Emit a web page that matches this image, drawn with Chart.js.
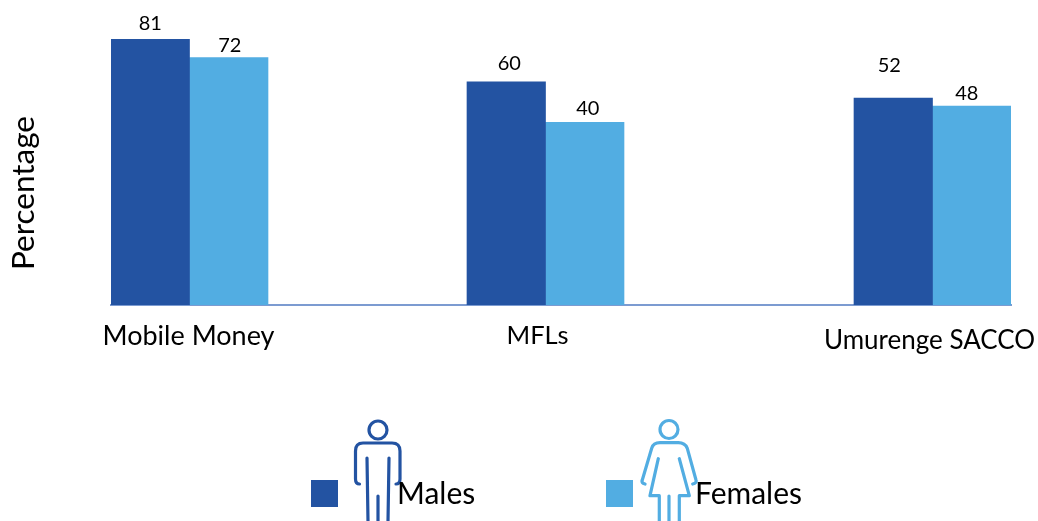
<!DOCTYPE html>
<html lang="en">
<head>
    <meta charset="UTF-8">
    <title>Use of financial services by sex</title>
    <script src="https://cdn.jsdelivr.net/npm/chart.js"></script>
    <style>
        html, body { margin: 0; padding: 0; background: #fff; }
        canvas { display: block; }
    </style>
</head>
<body>
<canvas id="myChart" width="1038" height="521"></canvas>

<script>
    const categories = ['Mobile Money', 'MFLs', 'Umurenge SACCO'];
    const seriesNames = ['Males', 'Females'];
    const males = [81, 60, 52];
    const females = [72, 40, 48];

    // groups are not evenly spaced along the axis
    const groupPositions = [0, 3.56, 7.43];

    const darkBlue = '#2353a2';
    const lightBlue = '#52ade2';
    const labelFont = '"Lato", "Open Sans", sans-serif';

    // hand placement of the value labels: [dx, lift above bar top]
    const valueNudge = [
        [[0, 16], [3, 18], [-4, 33]],
        [[1, 12], [3, 14], [-5, 13]]
    ];
    // hand placement of the category labels: [dx, y, font size]
    const categoryNudge = [[-1, 336, 27], [-8, 336, 25.5], [-3, 341, 26]];

    function text(ctx, str, x, y, font, align) {
        ctx.font = font;
        ctx.fillStyle = '#000';
        ctx.textAlign = align || 'center';
        ctx.textBaseline = 'middle';
        ctx.fillText(str, x, y);
    }

    const malePath = new Path2D('M359.5 484Q355.5 484 355.5 479V451Q355.5 443 363 443H392Q400 443 400 451V479Q400 484 396 484M367 458L368 521M389 458L388 521M378 496V521');
    const femalePath = new Path2D('M645 484Q641 483 642.3 480L651.7 448.3Q653.3 442.7 660 442.7H678.3Q685 442.7 687.3 448.3L696 480Q697 483 692.7 484M658.3 458.7L650 495.7H659.3V521M679.3 458.7L689.3 495.7H679.3V521M669 496V521');

    const annotations = {
        id: 'annotations',
        afterDatasetsDraw(chart) {
            const ctx = chart.ctx;
            const xScale = chart.scales.x;

            // values above the bars
            chart.data.datasets.forEach((dataset, i) => {
                chart.getDatasetMeta(i).data.forEach((bar, j) => {
                    const nudge = valueNudge[i][j];
                    text(ctx, String(dataset.data[j].y), bar.x + nudge[0], bar.y - nudge[1], '20px ' + labelFont);
                });
            });

            // category names
            categories.forEach((name, j) => {
                const nudge = categoryNudge[j];
                text(ctx, name, xScale.getPixelForValue(groupPositions[j]) + nudge[0], nudge[1], nudge[2] + 'px ' + labelFont);
            });

            // y axis title
            ctx.save();
            ctx.translate(24, 193);
            ctx.rotate(-Math.PI / 2);
            text(ctx, 'Percentage', 0, 0, '31.5px ' + labelFont);
            ctx.restore();

            // legend with the two person icons
            ctx.save();
            ctx.lineWidth = 3.2;
            ctx.lineCap = 'round';
            ctx.lineJoin = 'round';
            [[378, 430, malePath, darkBlue], [669, 429.5, femalePath, lightBlue]].forEach(icon => {
                ctx.strokeStyle = icon[3];
                ctx.beginPath();
                ctx.arc(icon[0], icon[1], 9, 0, Math.PI * 2);
                ctx.stroke();
                ctx.stroke(icon[2]);
            });
            ctx.restore();

            ctx.fillStyle = darkBlue;
            ctx.fillRect(311, 480, 27, 27);
            ctx.fillStyle = lightBlue;
            ctx.fillRect(606, 480, 27, 27);
            text(ctx, seriesNames[0], 397, 494, '30px ' + labelFont, 'left');
            text(ctx, seriesNames[1], 695, 494, '30px ' + labelFont, 'left');
        }
    };

    const ctx = document.getElementById('myChart').getContext('2d');

    const toPoints = values => values.map((v, i) => ({ x: groupPositions[i], y: v }));

    new Chart(ctx, {
        type: 'bar',
        data: {
            datasets: [
                { label: seriesNames[0], data: toPoints(males), backgroundColor: darkBlue, base: -50, barThickness: 78.5 },
                { label: seriesNames[1], data: toPoints(females), backgroundColor: lightBlue, base: -50, barThickness: 78.5 }
            ]
        },
        options: {
            responsive: false,
            animation: false,
            layout: { padding: { left: 111, right: 27, top: 21, bottom: 216 } },
            plugins: { legend: { display: false }, tooltip: { enabled: false } },
            scales: {
                x: {
                    type: 'linear',
                    offset: false,
                    min: -0.785,
                    max: 8.215,
                    ticks: { display: false },
                    grid: { display: false, drawTicks: false, offset: false },
                    border: { color: '#7c9bd1', width: 2 }
                },
                y: {
                    display: false,
                    min: -50,
                    max: 90
                }
            }
        },
        plugins: [annotations]
    });
</script>
</body>
</html>
